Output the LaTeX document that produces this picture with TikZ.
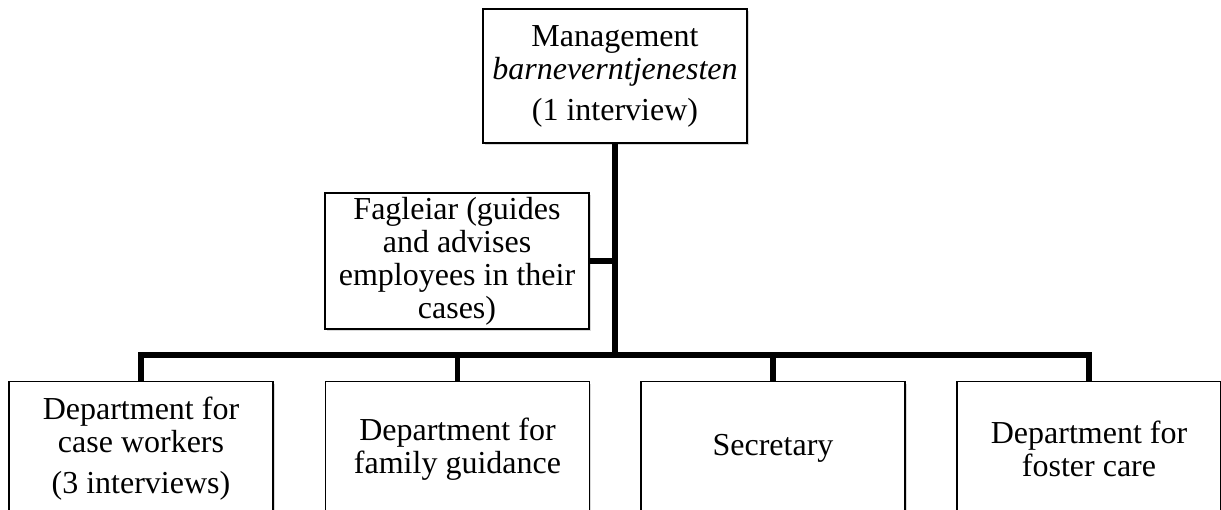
\documentclass[tikz,border=0pt]{standalone}
\usepackage{fontspec}
\setmainfont{Liberation Serif}
\usetikzlibrary{positioning,shadows}

\tikzset{
    unit/.style={draw, line width=0.7pt, fill=white, align=center,
        minimum width=132pt, minimum height=67pt, inner sep=2pt,
        font=\fontsize{16}{16.5}\selectfont,
        drop shadow={shadow xshift=0.8pt, shadow yshift=-0.9pt, opacity=0.3}},
    link/.style={line width=2.6pt, line join=miter}
}

\begin{document}
\begin{tikzpicture}[x=0.5pt, y=-0.5pt]
    \useasboundingbox (0,0) rectangle (1221,509);
    \clip (0,0) rectangle (1221,509);

    % Top box
    \node (mgmt) [unit] at (615,76) {Management\\ \textit{barneverntjenesten}\\[4pt] (1 interview)};

    % Side box
    \node (fag) [unit, minimum height=66pt] at (457,261) {Fagleiar (guides\\ and advises\\ employees in their\\ cases)};

    % Departments
    \node (dep1) [unit, anchor=north] at (141,381) {Department for\\ case workers\\[4pt] (3 interviews)};
    \node (dep2) [unit, anchor=north] at (457.5,381) {Department for\\ family guidance};
    \node (dep3) [unit, anchor=north] at (773,381) {Secretary};
    \node (dep4) [unit, anchor=north] at (1089,381) {Department for\\ foster care};

    % Lines
    \coordinate (hub) at (615,355);
    \draw[link] (mgmt.south) -- (mgmt.south |- hub);
    \draw[link] (fag.east) -- (fag.east -| hub);
    \draw[link] (dep1.north) -- (dep1.north |- hub) -- (dep4.north |- hub) -- (dep4.north);
    \foreach \d in {dep2, dep3} {
        \draw[link] (\d.north |- hub) -- (\d.north);
    }
\end{tikzpicture}
\end{document}
